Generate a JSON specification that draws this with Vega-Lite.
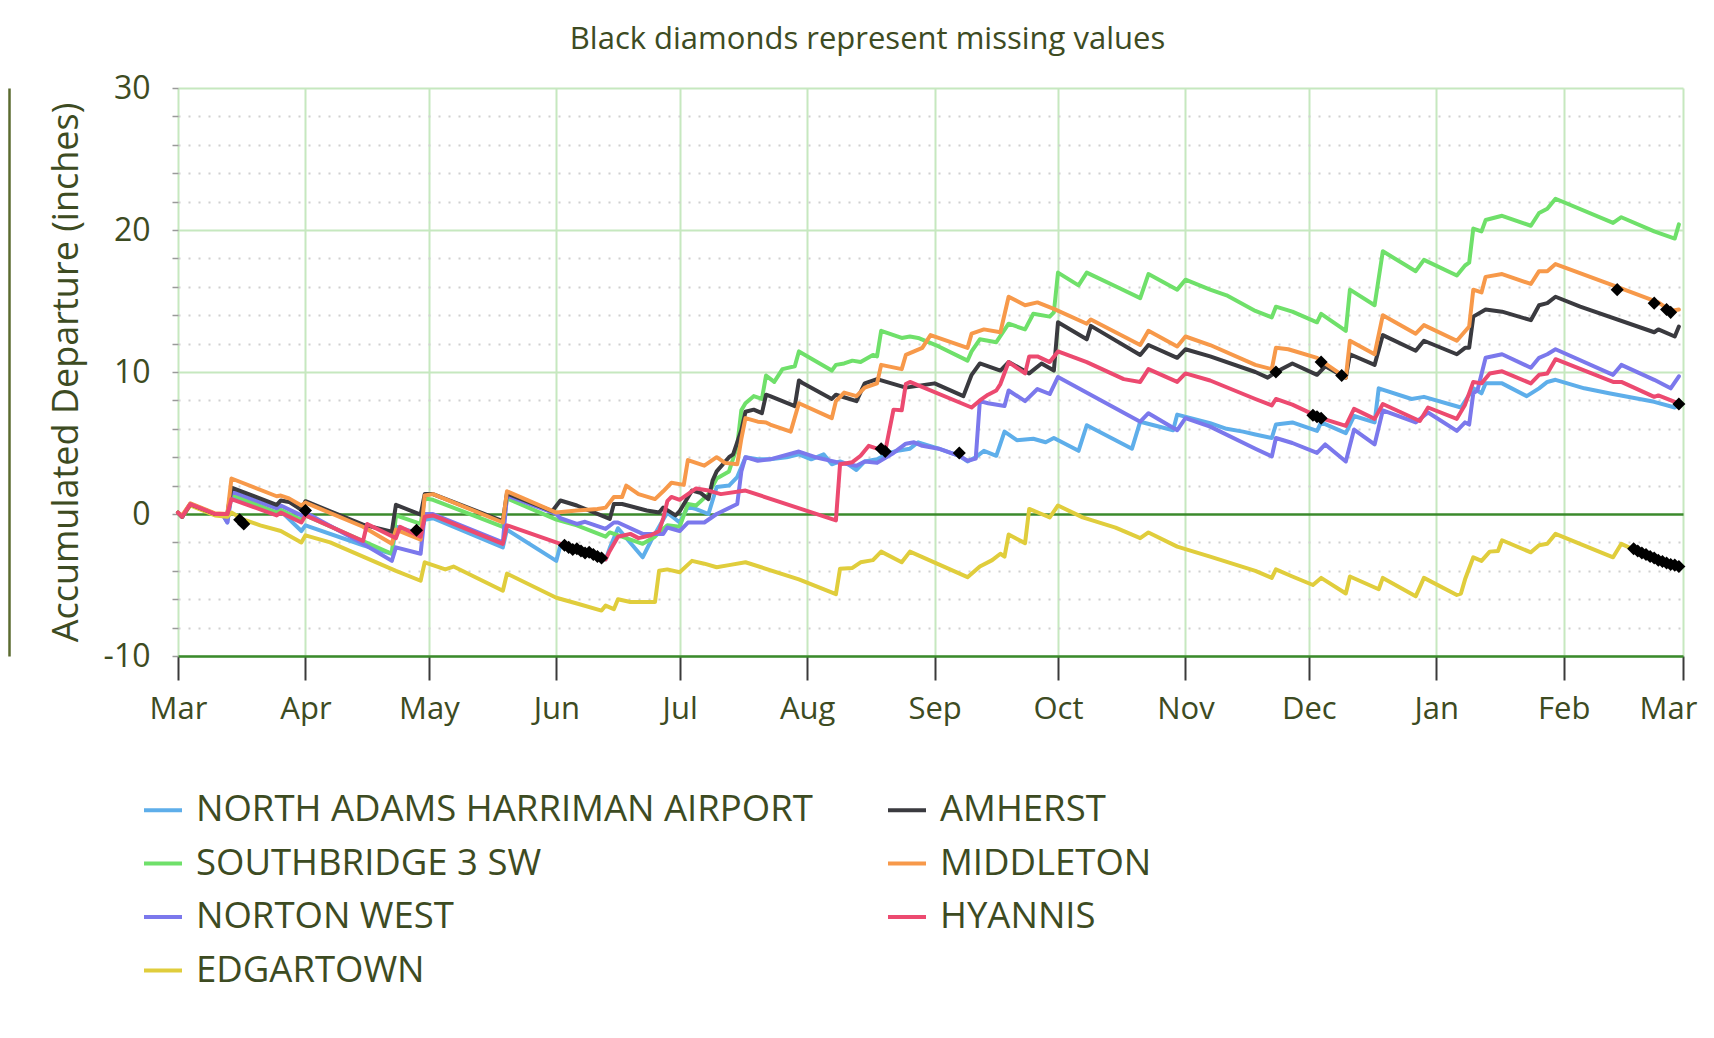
{
"$schema": "https://vega.github.io/schema/vega-lite/v6.json",
"width": 1505,
"height": 568,
"autosize": {"type": "none"},
"padding": {"left": 178, "top": 88, "right": 31, "bottom": 382},
"background": "white",
"config": {"font": "Open Sans", "view": {"stroke": null}},
"title": {"text": "Black diamonds represent missing values", "fontSize": 31, "font": "Open Sans", "fontWeight": "normal", "color": "#3d4b22", "anchor": "middle", "frame": "group", "dx": -63, "dy": 30, "offset": 22, "baseline": "alphabetic"},
"resolve": {"axis": {"y": "independent"}},
"datasets": {
"lines": [
{"station":"NORTH ADAMS HARRIMAN AIRPORT","date":"2023-03-01","value":0.1},
{"station":"NORTH ADAMS HARRIMAN AIRPORT","date":"2023-03-02","value":-0.2},
{"station":"NORTH ADAMS HARRIMAN AIRPORT","date":"2023-03-04","value":0.7},
{"station":"NORTH ADAMS HARRIMAN AIRPORT","date":"2023-03-10","value":0.0},
{"station":"NORTH ADAMS HARRIMAN AIRPORT","date":"2023-03-12","value":-0.1},
{"station":"NORTH ADAMS HARRIMAN AIRPORT","date":"2023-03-13","value":-0.6},
{"station":"NORTH ADAMS HARRIMAN AIRPORT","date":"2023-03-14","value":1.3},
{"station":"NORTH ADAMS HARRIMAN AIRPORT","date":"2023-03-25","value":0.0},
{"station":"NORTH ADAMS HARRIMAN AIRPORT","date":"2023-03-26","value":0.2},
{"station":"NORTH ADAMS HARRIMAN AIRPORT","date":"2023-03-31","value":-1.2},
{"station":"NORTH ADAMS HARRIMAN AIRPORT","date":"2023-04-01","value":-0.8},
{"station":"NORTH ADAMS HARRIMAN AIRPORT","date":"2023-04-15","value":-2.2},
{"station":"NORTH ADAMS HARRIMAN AIRPORT","date":"2023-04-22","value":-2.8},
{"station":"NORTH ADAMS HARRIMAN AIRPORT","date":"2023-04-23","value":-0.9},
{"station":"NORTH ADAMS HARRIMAN AIRPORT","date":"2023-04-29","value":-1.4},
{"station":"NORTH ADAMS HARRIMAN AIRPORT","date":"2023-04-30","value":-0.4},
{"station":"NORTH ADAMS HARRIMAN AIRPORT","date":"2023-05-02","value":-0.3},
{"station":"NORTH ADAMS HARRIMAN AIRPORT","date":"2023-05-19","value":-2.35},
{"station":"NORTH ADAMS HARRIMAN AIRPORT","date":"2023-05-20","value":-1.1},
{"station":"NORTH ADAMS HARRIMAN AIRPORT","date":"2023-06-01","value":-3.3},
{"station":"NORTH ADAMS HARRIMAN AIRPORT","date":"2023-06-02","value":-2.2},
{"station":"NORTH ADAMS HARRIMAN AIRPORT","date":"2023-06-13","value":-3.2},
{"station":"NORTH ADAMS HARRIMAN AIRPORT","date":"2023-06-14","value":-2.4},
{"station":"NORTH ADAMS HARRIMAN AIRPORT","date":"2023-06-16","value":-1.0},
{"station":"NORTH ADAMS HARRIMAN AIRPORT","date":"2023-06-22","value":-3.05},
{"station":"NORTH ADAMS HARRIMAN AIRPORT","date":"2023-06-24","value":-1.9},
{"station":"NORTH ADAMS HARRIMAN AIRPORT","date":"2023-06-26","value":-0.9},
{"station":"NORTH ADAMS HARRIMAN AIRPORT","date":"2023-06-28","value":0.1},
{"station":"NORTH ADAMS HARRIMAN AIRPORT","date":"2023-07-01","value":-0.6},
{"station":"NORTH ADAMS HARRIMAN AIRPORT","date":"2023-07-03","value":0.5},
{"station":"NORTH ADAMS HARRIMAN AIRPORT","date":"2023-07-05","value":0.35},
{"station":"NORTH ADAMS HARRIMAN AIRPORT","date":"2023-07-08","value":0.0},
{"station":"NORTH ADAMS HARRIMAN AIRPORT","date":"2023-07-10","value":1.9},
{"station":"NORTH ADAMS HARRIMAN AIRPORT","date":"2023-07-13","value":2.0},
{"station":"NORTH ADAMS HARRIMAN AIRPORT","date":"2023-07-15","value":2.6},
{"station":"NORTH ADAMS HARRIMAN AIRPORT","date":"2023-07-17","value":4.0},
{"station":"NORTH ADAMS HARRIMAN AIRPORT","date":"2023-07-20","value":3.85},
{"station":"NORTH ADAMS HARRIMAN AIRPORT","date":"2023-07-23","value":3.85},
{"station":"NORTH ADAMS HARRIMAN AIRPORT","date":"2023-07-27","value":4.0},
{"station":"NORTH ADAMS HARRIMAN AIRPORT","date":"2023-07-30","value":4.2},
{"station":"NORTH ADAMS HARRIMAN AIRPORT","date":"2023-08-02","value":3.85},
{"station":"NORTH ADAMS HARRIMAN AIRPORT","date":"2023-08-05","value":4.2},
{"station":"NORTH ADAMS HARRIMAN AIRPORT","date":"2023-08-07","value":3.5},
{"station":"NORTH ADAMS HARRIMAN AIRPORT","date":"2023-08-09","value":3.7},
{"station":"NORTH ADAMS HARRIMAN AIRPORT","date":"2023-08-11","value":3.5},
{"station":"NORTH ADAMS HARRIMAN AIRPORT","date":"2023-08-13","value":3.1},
{"station":"NORTH ADAMS HARRIMAN AIRPORT","date":"2023-08-15","value":3.7},
{"station":"NORTH ADAMS HARRIMAN AIRPORT","date":"2023-08-18","value":3.85},
{"station":"NORTH ADAMS HARRIMAN AIRPORT","date":"2023-08-21","value":4.3},
{"station":"NORTH ADAMS HARRIMAN AIRPORT","date":"2023-08-23","value":4.45},
{"station":"NORTH ADAMS HARRIMAN AIRPORT","date":"2023-08-26","value":4.6},
{"station":"NORTH ADAMS HARRIMAN AIRPORT","date":"2023-08-28","value":5.05},
{"station":"NORTH ADAMS HARRIMAN AIRPORT","date":"2023-09-02","value":4.6},
{"station":"NORTH ADAMS HARRIMAN AIRPORT","date":"2023-09-07","value":4.1},
{"station":"NORTH ADAMS HARRIMAN AIRPORT","date":"2023-09-09","value":3.7},
{"station":"NORTH ADAMS HARRIMAN AIRPORT","date":"2023-09-11","value":4.0},
{"station":"NORTH ADAMS HARRIMAN AIRPORT","date":"2023-09-13","value":4.45},
{"station":"NORTH ADAMS HARRIMAN AIRPORT","date":"2023-09-16","value":4.1},
{"station":"NORTH ADAMS HARRIMAN AIRPORT","date":"2023-09-18","value":5.8},
{"station":"NORTH ADAMS HARRIMAN AIRPORT","date":"2023-09-21","value":5.2},
{"station":"NORTH ADAMS HARRIMAN AIRPORT","date":"2023-09-25","value":5.3},
{"station":"NORTH ADAMS HARRIMAN AIRPORT","date":"2023-09-28","value":5.05},
{"station":"NORTH ADAMS HARRIMAN AIRPORT","date":"2023-09-30","value":5.35},
{"station":"NORTH ADAMS HARRIMAN AIRPORT","date":"2023-10-06","value":4.45},
{"station":"NORTH ADAMS HARRIMAN AIRPORT","date":"2023-10-08","value":6.25},
{"station":"NORTH ADAMS HARRIMAN AIRPORT","date":"2023-10-19","value":4.6},
{"station":"NORTH ADAMS HARRIMAN AIRPORT","date":"2023-10-21","value":6.5},
{"station":"NORTH ADAMS HARRIMAN AIRPORT","date":"2023-10-29","value":5.9},
{"station":"NORTH ADAMS HARRIMAN AIRPORT","date":"2023-10-30","value":7.0},
{"station":"NORTH ADAMS HARRIMAN AIRPORT","date":"2023-11-07","value":6.4},
{"station":"NORTH ADAMS HARRIMAN AIRPORT","date":"2023-11-11","value":6.0},
{"station":"NORTH ADAMS HARRIMAN AIRPORT","date":"2023-11-15","value":5.8},
{"station":"NORTH ADAMS HARRIMAN AIRPORT","date":"2023-11-18","value":5.6},
{"station":"NORTH ADAMS HARRIMAN AIRPORT","date":"2023-11-22","value":5.35},
{"station":"NORTH ADAMS HARRIMAN AIRPORT","date":"2023-11-23","value":6.3},
{"station":"NORTH ADAMS HARRIMAN AIRPORT","date":"2023-11-27","value":6.45},
{"station":"NORTH ADAMS HARRIMAN AIRPORT","date":"2023-12-03","value":5.85},
{"station":"NORTH ADAMS HARRIMAN AIRPORT","date":"2023-12-04","value":6.45},
{"station":"NORTH ADAMS HARRIMAN AIRPORT","date":"2023-12-10","value":5.7},
{"station":"NORTH ADAMS HARRIMAN AIRPORT","date":"2023-12-12","value":6.9},
{"station":"NORTH ADAMS HARRIMAN AIRPORT","date":"2023-12-17","value":6.45},
{"station":"NORTH ADAMS HARRIMAN AIRPORT","date":"2023-12-18","value":8.85},
{"station":"NORTH ADAMS HARRIMAN AIRPORT","date":"2023-12-26","value":8.1},
{"station":"NORTH ADAMS HARRIMAN AIRPORT","date":"2023-12-29","value":8.25},
{"station":"NORTH ADAMS HARRIMAN AIRPORT","date":"2024-01-07","value":7.5},
{"station":"NORTH ADAMS HARRIMAN AIRPORT","date":"2024-01-10","value":8.85},
{"station":"NORTH ADAMS HARRIMAN AIRPORT","date":"2024-01-12","value":8.5},
{"station":"NORTH ADAMS HARRIMAN AIRPORT","date":"2024-01-13","value":9.2},
{"station":"NORTH ADAMS HARRIMAN AIRPORT","date":"2024-01-17","value":9.2},
{"station":"NORTH ADAMS HARRIMAN AIRPORT","date":"2024-01-23","value":8.3},
{"station":"NORTH ADAMS HARRIMAN AIRPORT","date":"2024-01-26","value":8.85},
{"station":"NORTH ADAMS HARRIMAN AIRPORT","date":"2024-01-28","value":9.3},
{"station":"NORTH ADAMS HARRIMAN AIRPORT","date":"2024-01-30","value":9.45},
{"station":"NORTH ADAMS HARRIMAN AIRPORT","date":"2024-02-06","value":8.85},
{"station":"NORTH ADAMS HARRIMAN AIRPORT","date":"2024-02-12","value":8.5},
{"station":"NORTH ADAMS HARRIMAN AIRPORT","date":"2024-02-23","value":7.9},
{"station":"NORTH ADAMS HARRIMAN AIRPORT","date":"2024-02-28","value":7.5},
{"station":"NORTH ADAMS HARRIMAN AIRPORT","date":"2024-02-29","value":7.75},
{"station":"SOUTHBRIDGE 3 SW","date":"2023-03-01","value":0.1},
{"station":"SOUTHBRIDGE 3 SW","date":"2023-03-02","value":-0.2},
{"station":"SOUTHBRIDGE 3 SW","date":"2023-03-04","value":0.7},
{"station":"SOUTHBRIDGE 3 SW","date":"2023-03-10","value":0.0},
{"station":"SOUTHBRIDGE 3 SW","date":"2023-03-13","value":0.0},
{"station":"SOUTHBRIDGE 3 SW","date":"2023-03-14","value":1.4},
{"station":"SOUTHBRIDGE 3 SW","date":"2023-03-25","value":0.1},
{"station":"SOUTHBRIDGE 3 SW","date":"2023-03-26","value":0.3},
{"station":"SOUTHBRIDGE 3 SW","date":"2023-03-31","value":-0.4},
{"station":"SOUTHBRIDGE 3 SW","date":"2023-04-01","value":-0.1},
{"station":"SOUTHBRIDGE 3 SW","date":"2023-04-15","value":-1.9},
{"station":"SOUTHBRIDGE 3 SW","date":"2023-04-22","value":-2.8},
{"station":"SOUTHBRIDGE 3 SW","date":"2023-04-23","value":-0.1},
{"station":"SOUTHBRIDGE 3 SW","date":"2023-04-29","value":-0.7},
{"station":"SOUTHBRIDGE 3 SW","date":"2023-04-30","value":1.1},
{"station":"SOUTHBRIDGE 3 SW","date":"2023-05-02","value":1.0},
{"station":"SOUTHBRIDGE 3 SW","date":"2023-05-19","value":-0.9},
{"station":"SOUTHBRIDGE 3 SW","date":"2023-05-20","value":1.1},
{"station":"SOUTHBRIDGE 3 SW","date":"2023-06-01","value":-0.4},
{"station":"SOUTHBRIDGE 3 SW","date":"2023-06-06","value":-0.8},
{"station":"SOUTHBRIDGE 3 SW","date":"2023-06-13","value":-1.6},
{"station":"SOUTHBRIDGE 3 SW","date":"2023-06-14","value":-1.3},
{"station":"SOUTHBRIDGE 3 SW","date":"2023-06-22","value":-2.1},
{"station":"SOUTHBRIDGE 3 SW","date":"2023-06-25","value":-1.6},
{"station":"SOUTHBRIDGE 3 SW","date":"2023-06-26","value":-1.3},
{"station":"SOUTHBRIDGE 3 SW","date":"2023-06-28","value":-0.8},
{"station":"SOUTHBRIDGE 3 SW","date":"2023-07-01","value":-0.9},
{"station":"SOUTHBRIDGE 3 SW","date":"2023-07-03","value":0.7},
{"station":"SOUTHBRIDGE 3 SW","date":"2023-07-05","value":0.6},
{"station":"SOUTHBRIDGE 3 SW","date":"2023-07-08","value":1.4},
{"station":"SOUTHBRIDGE 3 SW","date":"2023-07-10","value":2.5},
{"station":"SOUTHBRIDGE 3 SW","date":"2023-07-13","value":3.0},
{"station":"SOUTHBRIDGE 3 SW","date":"2023-07-14","value":3.9},
{"station":"SOUTHBRIDGE 3 SW","date":"2023-07-15","value":4.8},
{"station":"SOUTHBRIDGE 3 SW","date":"2023-07-16","value":7.3},
{"station":"SOUTHBRIDGE 3 SW","date":"2023-07-17","value":7.8},
{"station":"SOUTHBRIDGE 3 SW","date":"2023-07-19","value":8.3},
{"station":"SOUTHBRIDGE 3 SW","date":"2023-07-21","value":8.1},
{"station":"SOUTHBRIDGE 3 SW","date":"2023-07-22","value":9.75},
{"station":"SOUTHBRIDGE 3 SW","date":"2023-07-24","value":9.3},
{"station":"SOUTHBRIDGE 3 SW","date":"2023-07-26","value":10.2},
{"station":"SOUTHBRIDGE 3 SW","date":"2023-07-29","value":10.4},
{"station":"SOUTHBRIDGE 3 SW","date":"2023-07-30","value":11.45},
{"station":"SOUTHBRIDGE 3 SW","date":"2023-08-07","value":10.1},
{"station":"SOUTHBRIDGE 3 SW","date":"2023-08-08","value":10.5},
{"station":"SOUTHBRIDGE 3 SW","date":"2023-08-10","value":10.6},
{"station":"SOUTHBRIDGE 3 SW","date":"2023-08-12","value":10.8},
{"station":"SOUTHBRIDGE 3 SW","date":"2023-08-14","value":10.7},
{"station":"SOUTHBRIDGE 3 SW","date":"2023-08-17","value":11.2},
{"station":"SOUTHBRIDGE 3 SW","date":"2023-08-18","value":11.1},
{"station":"SOUTHBRIDGE 3 SW","date":"2023-08-19","value":12.9},
{"station":"SOUTHBRIDGE 3 SW","date":"2023-08-24","value":12.4},
{"station":"SOUTHBRIDGE 3 SW","date":"2023-08-26","value":12.5},
{"station":"SOUTHBRIDGE 3 SW","date":"2023-08-28","value":12.4},
{"station":"SOUTHBRIDGE 3 SW","date":"2023-09-02","value":11.8},
{"station":"SOUTHBRIDGE 3 SW","date":"2023-09-09","value":10.8},
{"station":"SOUTHBRIDGE 3 SW","date":"2023-09-10","value":11.45},
{"station":"SOUTHBRIDGE 3 SW","date":"2023-09-12","value":12.3},
{"station":"SOUTHBRIDGE 3 SW","date":"2023-09-16","value":12.1},
{"station":"SOUTHBRIDGE 3 SW","date":"2023-09-19","value":13.4},
{"station":"SOUTHBRIDGE 3 SW","date":"2023-09-23","value":13.0},
{"station":"SOUTHBRIDGE 3 SW","date":"2023-09-25","value":14.1},
{"station":"SOUTHBRIDGE 3 SW","date":"2023-09-29","value":13.9},
{"station":"SOUTHBRIDGE 3 SW","date":"2023-09-30","value":14.2},
{"station":"SOUTHBRIDGE 3 SW","date":"2023-10-01","value":17.0},
{"station":"SOUTHBRIDGE 3 SW","date":"2023-10-06","value":16.1},
{"station":"SOUTHBRIDGE 3 SW","date":"2023-10-08","value":17.0},
{"station":"SOUTHBRIDGE 3 SW","date":"2023-10-16","value":15.9},
{"station":"SOUTHBRIDGE 3 SW","date":"2023-10-21","value":15.2},
{"station":"SOUTHBRIDGE 3 SW","date":"2023-10-23","value":16.9},
{"station":"SOUTHBRIDGE 3 SW","date":"2023-10-30","value":15.8},
{"station":"SOUTHBRIDGE 3 SW","date":"2023-11-01","value":16.5},
{"station":"SOUTHBRIDGE 3 SW","date":"2023-11-07","value":15.8},
{"station":"SOUTHBRIDGE 3 SW","date":"2023-11-11","value":15.4},
{"station":"SOUTHBRIDGE 3 SW","date":"2023-11-18","value":14.3},
{"station":"SOUTHBRIDGE 3 SW","date":"2023-11-22","value":13.85},
{"station":"SOUTHBRIDGE 3 SW","date":"2023-11-23","value":14.6},
{"station":"SOUTHBRIDGE 3 SW","date":"2023-11-27","value":14.25},
{"station":"SOUTHBRIDGE 3 SW","date":"2023-12-03","value":13.5},
{"station":"SOUTHBRIDGE 3 SW","date":"2023-12-04","value":14.1},
{"station":"SOUTHBRIDGE 3 SW","date":"2023-12-10","value":12.9},
{"station":"SOUTHBRIDGE 3 SW","date":"2023-12-11","value":15.8},
{"station":"SOUTHBRIDGE 3 SW","date":"2023-12-17","value":14.7},
{"station":"SOUTHBRIDGE 3 SW","date":"2023-12-19","value":18.5},
{"station":"SOUTHBRIDGE 3 SW","date":"2023-12-27","value":17.1},
{"station":"SOUTHBRIDGE 3 SW","date":"2023-12-29","value":17.9},
{"station":"SOUTHBRIDGE 3 SW","date":"2024-01-06","value":16.8},
{"station":"SOUTHBRIDGE 3 SW","date":"2024-01-08","value":17.5},
{"station":"SOUTHBRIDGE 3 SW","date":"2024-01-09","value":17.7},
{"station":"SOUTHBRIDGE 3 SW","date":"2024-01-10","value":20.1},
{"station":"SOUTHBRIDGE 3 SW","date":"2024-01-12","value":19.9},
{"station":"SOUTHBRIDGE 3 SW","date":"2024-01-13","value":20.7},
{"station":"SOUTHBRIDGE 3 SW","date":"2024-01-17","value":21.0},
{"station":"SOUTHBRIDGE 3 SW","date":"2024-01-24","value":20.3},
{"station":"SOUTHBRIDGE 3 SW","date":"2024-01-26","value":21.2},
{"station":"SOUTHBRIDGE 3 SW","date":"2024-01-28","value":21.5},
{"station":"SOUTHBRIDGE 3 SW","date":"2024-01-30","value":22.2},
{"station":"SOUTHBRIDGE 3 SW","date":"2024-02-13","value":20.5},
{"station":"SOUTHBRIDGE 3 SW","date":"2024-02-15","value":20.9},
{"station":"SOUTHBRIDGE 3 SW","date":"2024-02-23","value":19.9},
{"station":"SOUTHBRIDGE 3 SW","date":"2024-02-28","value":19.4},
{"station":"SOUTHBRIDGE 3 SW","date":"2024-02-29","value":20.4},
{"station":"NORTON WEST","date":"2023-03-01","value":0.1},
{"station":"NORTON WEST","date":"2023-03-02","value":-0.2},
{"station":"NORTON WEST","date":"2023-03-04","value":0.7},
{"station":"NORTON WEST","date":"2023-03-10","value":0.0},
{"station":"NORTON WEST","date":"2023-03-12","value":-0.1},
{"station":"NORTON WEST","date":"2023-03-13","value":-0.6},
{"station":"NORTON WEST","date":"2023-03-14","value":1.6},
{"station":"NORTON WEST","date":"2023-03-25","value":0.4},
{"station":"NORTON WEST","date":"2023-03-26","value":0.6},
{"station":"NORTON WEST","date":"2023-03-31","value":-0.1},
{"station":"NORTON WEST","date":"2023-04-01","value":0.1},
{"station":"NORTON WEST","date":"2023-04-15","value":-2.1},
{"station":"NORTON WEST","date":"2023-04-22","value":-3.3},
{"station":"NORTON WEST","date":"2023-04-23","value":-2.35},
{"station":"NORTON WEST","date":"2023-04-29","value":-2.8},
{"station":"NORTON WEST","date":"2023-04-30","value":0.0},
{"station":"NORTON WEST","date":"2023-05-02","value":0.0},
{"station":"NORTON WEST","date":"2023-05-19","value":-2.0},
{"station":"NORTON WEST","date":"2023-05-20","value":1.3},
{"station":"NORTON WEST","date":"2023-06-01","value":0.0},
{"station":"NORTON WEST","date":"2023-06-02","value":-0.3},
{"station":"NORTON WEST","date":"2023-06-06","value":-0.7},
{"station":"NORTON WEST","date":"2023-06-08","value":-0.55},
{"station":"NORTON WEST","date":"2023-06-13","value":-1.05},
{"station":"NORTON WEST","date":"2023-06-15","value":-0.6},
{"station":"NORTON WEST","date":"2023-06-16","value":-0.6},
{"station":"NORTON WEST","date":"2023-06-22","value":-1.4},
{"station":"NORTON WEST","date":"2023-06-27","value":-1.4},
{"station":"NORTON WEST","date":"2023-06-28","value":-0.95},
{"station":"NORTON WEST","date":"2023-07-01","value":-1.2},
{"station":"NORTON WEST","date":"2023-07-03","value":-0.6},
{"station":"NORTON WEST","date":"2023-07-07","value":-0.6},
{"station":"NORTON WEST","date":"2023-07-10","value":0.0},
{"station":"NORTON WEST","date":"2023-07-15","value":0.7},
{"station":"NORTON WEST","date":"2023-07-16","value":3.0},
{"station":"NORTON WEST","date":"2023-07-17","value":4.0},
{"station":"NORTON WEST","date":"2023-07-20","value":3.75},
{"station":"NORTON WEST","date":"2023-07-23","value":3.85},
{"station":"NORTON WEST","date":"2023-07-30","value":4.4},
{"station":"NORTON WEST","date":"2023-08-01","value":4.2},
{"station":"NORTON WEST","date":"2023-08-03","value":4.0},
{"station":"NORTON WEST","date":"2023-08-09","value":3.6},
{"station":"NORTON WEST","date":"2023-08-13","value":3.4},
{"station":"NORTON WEST","date":"2023-08-15","value":3.7},
{"station":"NORTON WEST","date":"2023-08-18","value":3.6},
{"station":"NORTON WEST","date":"2023-08-22","value":4.3},
{"station":"NORTON WEST","date":"2023-08-25","value":4.95},
{"station":"NORTON WEST","date":"2023-08-27","value":5.05},
{"station":"NORTON WEST","date":"2023-08-29","value":4.8},
{"station":"NORTON WEST","date":"2023-09-02","value":4.6},
{"station":"NORTON WEST","date":"2023-09-07","value":4.1},
{"station":"NORTON WEST","date":"2023-09-09","value":3.75},
{"station":"NORTON WEST","date":"2023-09-11","value":3.9},
{"station":"NORTON WEST","date":"2023-09-12","value":7.95},
{"station":"NORTON WEST","date":"2023-09-14","value":7.8},
{"station":"NORTON WEST","date":"2023-09-18","value":7.6},
{"station":"NORTON WEST","date":"2023-09-19","value":8.7},
{"station":"NORTON WEST","date":"2023-09-23","value":7.95},
{"station":"NORTON WEST","date":"2023-09-26","value":8.8},
{"station":"NORTON WEST","date":"2023-09-29","value":8.45},
{"station":"NORTON WEST","date":"2023-10-01","value":9.65},
{"station":"NORTON WEST","date":"2023-10-21","value":6.5},
{"station":"NORTON WEST","date":"2023-10-23","value":7.1},
{"station":"NORTON WEST","date":"2023-10-30","value":5.9},
{"station":"NORTON WEST","date":"2023-11-01","value":6.75},
{"station":"NORTON WEST","date":"2023-11-07","value":6.15},
{"station":"NORTON WEST","date":"2023-11-18","value":4.6},
{"station":"NORTON WEST","date":"2023-11-22","value":4.05},
{"station":"NORTON WEST","date":"2023-11-23","value":5.35},
{"station":"NORTON WEST","date":"2023-11-27","value":5.0},
{"station":"NORTON WEST","date":"2023-12-03","value":4.3},
{"station":"NORTON WEST","date":"2023-12-05","value":4.9},
{"station":"NORTON WEST","date":"2023-12-10","value":3.7},
{"station":"NORTON WEST","date":"2023-12-12","value":5.95},
{"station":"NORTON WEST","date":"2023-12-17","value":4.9},
{"station":"NORTON WEST","date":"2023-12-19","value":7.3},
{"station":"NORTON WEST","date":"2023-12-27","value":6.45},
{"station":"NORTON WEST","date":"2023-12-30","value":7.15},
{"station":"NORTON WEST","date":"2024-01-06","value":5.85},
{"station":"NORTON WEST","date":"2024-01-08","value":6.45},
{"station":"NORTON WEST","date":"2024-01-09","value":6.3},
{"station":"NORTON WEST","date":"2024-01-10","value":8.5},
{"station":"NORTON WEST","date":"2024-01-11","value":8.7},
{"station":"NORTON WEST","date":"2024-01-13","value":11.0},
{"station":"NORTON WEST","date":"2024-01-17","value":11.25},
{"station":"NORTON WEST","date":"2024-01-24","value":10.3},
{"station":"NORTON WEST","date":"2024-01-26","value":11.0},
{"station":"NORTON WEST","date":"2024-01-28","value":11.25},
{"station":"NORTON WEST","date":"2024-01-30","value":11.6},
{"station":"NORTON WEST","date":"2024-02-13","value":9.8},
{"station":"NORTON WEST","date":"2024-02-15","value":10.5},
{"station":"NORTON WEST","date":"2024-02-23","value":9.45},
{"station":"NORTON WEST","date":"2024-02-27","value":8.85},
{"station":"NORTON WEST","date":"2024-02-29","value":9.7},
{"station":"EDGARTOWN","date":"2023-03-01","value":0.1},
{"station":"EDGARTOWN","date":"2023-03-02","value":-0.2},
{"station":"EDGARTOWN","date":"2023-03-04","value":0.6},
{"station":"EDGARTOWN","date":"2023-03-10","value":-0.1},
{"station":"EDGARTOWN","date":"2023-03-13","value":-0.2},
{"station":"EDGARTOWN","date":"2023-03-14","value":0.1},
{"station":"EDGARTOWN","date":"2023-03-17","value":-0.4},
{"station":"EDGARTOWN","date":"2023-03-21","value":-0.8},
{"station":"EDGARTOWN","date":"2023-03-26","value":-1.2},
{"station":"EDGARTOWN","date":"2023-03-31","value":-2.0},
{"station":"EDGARTOWN","date":"2023-04-01","value":-1.5},
{"station":"EDGARTOWN","date":"2023-04-07","value":-2.0},
{"station":"EDGARTOWN","date":"2023-04-15","value":-3.0},
{"station":"EDGARTOWN","date":"2023-04-23","value":-4.0},
{"station":"EDGARTOWN","date":"2023-04-29","value":-4.7},
{"station":"EDGARTOWN","date":"2023-04-30","value":-3.4},
{"station":"EDGARTOWN","date":"2023-05-05","value":-3.9},
{"station":"EDGARTOWN","date":"2023-05-07","value":-3.7},
{"station":"EDGARTOWN","date":"2023-05-19","value":-5.4},
{"station":"EDGARTOWN","date":"2023-05-20","value":-4.2},
{"station":"EDGARTOWN","date":"2023-06-01","value":-5.9},
{"station":"EDGARTOWN","date":"2023-06-06","value":-6.3},
{"station":"EDGARTOWN","date":"2023-06-12","value":-6.8},
{"station":"EDGARTOWN","date":"2023-06-13","value":-6.45},
{"station":"EDGARTOWN","date":"2023-06-15","value":-6.7},
{"station":"EDGARTOWN","date":"2023-06-16","value":-6.0},
{"station":"EDGARTOWN","date":"2023-06-19","value":-6.2},
{"station":"EDGARTOWN","date":"2023-06-25","value":-6.2},
{"station":"EDGARTOWN","date":"2023-06-26","value":-4.0},
{"station":"EDGARTOWN","date":"2023-06-28","value":-3.9},
{"station":"EDGARTOWN","date":"2023-07-01","value":-4.1},
{"station":"EDGARTOWN","date":"2023-07-04","value":-3.3},
{"station":"EDGARTOWN","date":"2023-07-07","value":-3.5},
{"station":"EDGARTOWN","date":"2023-07-10","value":-3.75},
{"station":"EDGARTOWN","date":"2023-07-13","value":-3.6},
{"station":"EDGARTOWN","date":"2023-07-17","value":-3.4},
{"station":"EDGARTOWN","date":"2023-07-30","value":-4.6},
{"station":"EDGARTOWN","date":"2023-08-08","value":-5.65},
{"station":"EDGARTOWN","date":"2023-08-09","value":-3.85},
{"station":"EDGARTOWN","date":"2023-08-12","value":-3.8},
{"station":"EDGARTOWN","date":"2023-08-14","value":-3.4},
{"station":"EDGARTOWN","date":"2023-08-17","value":-3.25},
{"station":"EDGARTOWN","date":"2023-08-19","value":-2.65},
{"station":"EDGARTOWN","date":"2023-08-24","value":-3.4},
{"station":"EDGARTOWN","date":"2023-08-26","value":-2.65},
{"station":"EDGARTOWN","date":"2023-09-09","value":-4.45},
{"station":"EDGARTOWN","date":"2023-09-12","value":-3.7},
{"station":"EDGARTOWN","date":"2023-09-15","value":-3.25},
{"station":"EDGARTOWN","date":"2023-09-17","value":-2.8},
{"station":"EDGARTOWN","date":"2023-09-18","value":-3.0},
{"station":"EDGARTOWN","date":"2023-09-19","value":-1.45},
{"station":"EDGARTOWN","date":"2023-09-23","value":-2.05},
{"station":"EDGARTOWN","date":"2023-09-24","value":0.36},
{"station":"EDGARTOWN","date":"2023-09-27","value":0.0},
{"station":"EDGARTOWN","date":"2023-09-29","value":-0.24},
{"station":"EDGARTOWN","date":"2023-10-01","value":0.6},
{"station":"EDGARTOWN","date":"2023-10-07","value":-0.24},
{"station":"EDGARTOWN","date":"2023-10-15","value":-0.96},
{"station":"EDGARTOWN","date":"2023-10-21","value":-1.7},
{"station":"EDGARTOWN","date":"2023-10-23","value":-1.3},
{"station":"EDGARTOWN","date":"2023-10-30","value":-2.3},
{"station":"EDGARTOWN","date":"2023-11-07","value":-3.0},
{"station":"EDGARTOWN","date":"2023-11-18","value":-4.0},
{"station":"EDGARTOWN","date":"2023-11-22","value":-4.5},
{"station":"EDGARTOWN","date":"2023-11-23","value":-3.9},
{"station":"EDGARTOWN","date":"2023-11-27","value":-4.4},
{"station":"EDGARTOWN","date":"2023-12-02","value":-5.0},
{"station":"EDGARTOWN","date":"2023-12-04","value":-4.5},
{"station":"EDGARTOWN","date":"2023-12-10","value":-5.6},
{"station":"EDGARTOWN","date":"2023-12-11","value":-4.4},
{"station":"EDGARTOWN","date":"2023-12-18","value":-5.3},
{"station":"EDGARTOWN","date":"2023-12-19","value":-4.5},
{"station":"EDGARTOWN","date":"2023-12-27","value":-5.8},
{"station":"EDGARTOWN","date":"2023-12-29","value":-4.5},
{"station":"EDGARTOWN","date":"2024-01-06","value":-5.7},
{"station":"EDGARTOWN","date":"2024-01-07","value":-5.6},
{"station":"EDGARTOWN","date":"2024-01-08","value":-4.6},
{"station":"EDGARTOWN","date":"2024-01-10","value":-3.05},
{"station":"EDGARTOWN","date":"2024-01-12","value":-3.3},
{"station":"EDGARTOWN","date":"2024-01-14","value":-2.65},
{"station":"EDGARTOWN","date":"2024-01-16","value":-2.6},
{"station":"EDGARTOWN","date":"2024-01-17","value":-1.85},
{"station":"EDGARTOWN","date":"2024-01-24","value":-2.7},
{"station":"EDGARTOWN","date":"2024-01-26","value":-2.2},
{"station":"EDGARTOWN","date":"2024-01-28","value":-2.1},
{"station":"EDGARTOWN","date":"2024-01-30","value":-1.4},
{"station":"EDGARTOWN","date":"2024-02-13","value":-3.05},
{"station":"EDGARTOWN","date":"2024-02-15","value":-2.1},
{"station":"EDGARTOWN","date":"2024-02-18","value":-2.5},
{"station":"AMHERST","date":"2023-03-01","value":0.1},
{"station":"AMHERST","date":"2023-03-02","value":-0.2},
{"station":"AMHERST","date":"2023-03-04","value":0.7},
{"station":"AMHERST","date":"2023-03-10","value":0.0},
{"station":"AMHERST","date":"2023-03-13","value":0.0},
{"station":"AMHERST","date":"2023-03-14","value":1.85},
{"station":"AMHERST","date":"2023-03-25","value":0.65},
{"station":"AMHERST","date":"2023-03-26","value":0.95},
{"station":"AMHERST","date":"2023-03-28","value":0.85},
{"station":"AMHERST","date":"2023-03-31","value":0.3},
{"station":"AMHERST","date":"2023-04-01","value":0.9},
{"station":"AMHERST","date":"2023-04-15","value":-0.75},
{"station":"AMHERST","date":"2023-04-22","value":-1.25},
{"station":"AMHERST","date":"2023-04-23","value":0.65},
{"station":"AMHERST","date":"2023-04-29","value":-0.05},
{"station":"AMHERST","date":"2023-04-30","value":1.4},
{"station":"AMHERST","date":"2023-05-02","value":1.4},
{"station":"AMHERST","date":"2023-05-19","value":-0.5},
{"station":"AMHERST","date":"2023-05-20","value":1.45},
{"station":"AMHERST","date":"2023-05-31","value":0.2},
{"station":"AMHERST","date":"2023-06-02","value":0.95},
{"station":"AMHERST","date":"2023-06-06","value":0.6},
{"station":"AMHERST","date":"2023-06-14","value":-0.35},
{"station":"AMHERST","date":"2023-06-15","value":0.7},
{"station":"AMHERST","date":"2023-06-17","value":0.7},
{"station":"AMHERST","date":"2023-06-23","value":0.25},
{"station":"AMHERST","date":"2023-06-26","value":0.1},
{"station":"AMHERST","date":"2023-06-27","value":0.45},
{"station":"AMHERST","date":"2023-06-30","value":-0.1},
{"station":"AMHERST","date":"2023-07-01","value":0.2},
{"station":"AMHERST","date":"2023-07-04","value":1.65},
{"station":"AMHERST","date":"2023-07-06","value":1.5},
{"station":"AMHERST","date":"2023-07-08","value":1.05},
{"station":"AMHERST","date":"2023-07-09","value":2.35},
{"station":"AMHERST","date":"2023-07-10","value":3.0},
{"station":"AMHERST","date":"2023-07-13","value":4.0},
{"station":"AMHERST","date":"2023-07-14","value":4.2},
{"station":"AMHERST","date":"2023-07-16","value":5.9},
{"station":"AMHERST","date":"2023-07-17","value":7.2},
{"station":"AMHERST","date":"2023-07-19","value":7.35},
{"station":"AMHERST","date":"2023-07-21","value":7.1},
{"station":"AMHERST","date":"2023-07-22","value":8.4},
{"station":"AMHERST","date":"2023-07-23","value":8.3},
{"station":"AMHERST","date":"2023-07-29","value":7.6},
{"station":"AMHERST","date":"2023-07-30","value":9.4},
{"station":"AMHERST","date":"2023-07-31","value":9.2},
{"station":"AMHERST","date":"2023-08-07","value":8.1},
{"station":"AMHERST","date":"2023-08-08","value":8.4},
{"station":"AMHERST","date":"2023-08-13","value":7.95},
{"station":"AMHERST","date":"2023-08-15","value":9.2},
{"station":"AMHERST","date":"2023-08-18","value":9.5},
{"station":"AMHERST","date":"2023-08-25","value":8.9},
{"station":"AMHERST","date":"2023-09-01","value":9.2},
{"station":"AMHERST","date":"2023-09-08","value":8.3},
{"station":"AMHERST","date":"2023-09-10","value":9.8},
{"station":"AMHERST","date":"2023-09-12","value":10.6},
{"station":"AMHERST","date":"2023-09-17","value":10.1},
{"station":"AMHERST","date":"2023-09-19","value":10.7},
{"station":"AMHERST","date":"2023-09-24","value":9.9},
{"station":"AMHERST","date":"2023-09-27","value":10.6},
{"station":"AMHERST","date":"2023-09-30","value":10.1},
{"station":"AMHERST","date":"2023-10-01","value":13.5},
{"station":"AMHERST","date":"2023-10-08","value":12.3},
{"station":"AMHERST","date":"2023-10-09","value":13.25},
{"station":"AMHERST","date":"2023-10-21","value":11.2},
{"station":"AMHERST","date":"2023-10-23","value":11.9},
{"station":"AMHERST","date":"2023-10-30","value":11.0},
{"station":"AMHERST","date":"2023-11-01","value":11.6},
{"station":"AMHERST","date":"2023-11-07","value":11.1},
{"station":"AMHERST","date":"2023-11-18","value":10.0},
{"station":"AMHERST","date":"2023-11-21","value":9.6},
{"station":"AMHERST","date":"2023-11-23","value":10.0},
{"station":"AMHERST","date":"2023-11-27","value":10.6},
{"station":"AMHERST","date":"2023-12-03","value":9.8},
{"station":"AMHERST","date":"2023-12-05","value":10.4},
{"station":"AMHERST","date":"2023-12-10","value":9.6},
{"station":"AMHERST","date":"2023-12-11","value":11.25},
{"station":"AMHERST","date":"2023-12-17","value":10.5},
{"station":"AMHERST","date":"2023-12-19","value":12.6},
{"station":"AMHERST","date":"2023-12-27","value":11.5},
{"station":"AMHERST","date":"2023-12-29","value":12.2},
{"station":"AMHERST","date":"2024-01-06","value":11.25},
{"station":"AMHERST","date":"2024-01-08","value":11.7},
{"station":"AMHERST","date":"2024-01-09","value":11.7},
{"station":"AMHERST","date":"2024-01-10","value":13.9},
{"station":"AMHERST","date":"2024-01-13","value":14.4},
{"station":"AMHERST","date":"2024-01-17","value":14.25},
{"station":"AMHERST","date":"2024-01-24","value":13.65},
{"station":"AMHERST","date":"2024-01-26","value":14.7},
{"station":"AMHERST","date":"2024-01-28","value":14.85},
{"station":"AMHERST","date":"2024-01-30","value":15.3},
{"station":"AMHERST","date":"2024-02-05","value":14.6},
{"station":"AMHERST","date":"2024-02-23","value":12.8},
{"station":"AMHERST","date":"2024-02-24","value":13.0},
{"station":"AMHERST","date":"2024-02-28","value":12.5},
{"station":"AMHERST","date":"2024-02-29","value":13.2},
{"station":"MIDDLETON","date":"2023-03-01","value":0.1},
{"station":"MIDDLETON","date":"2023-03-02","value":-0.1},
{"station":"MIDDLETON","date":"2023-03-04","value":0.75},
{"station":"MIDDLETON","date":"2023-03-10","value":0.05},
{"station":"MIDDLETON","date":"2023-03-13","value":0.0},
{"station":"MIDDLETON","date":"2023-03-14","value":2.5},
{"station":"MIDDLETON","date":"2023-03-25","value":1.25},
{"station":"MIDDLETON","date":"2023-03-26","value":1.3},
{"station":"MIDDLETON","date":"2023-03-28","value":1.1},
{"station":"MIDDLETON","date":"2023-03-31","value":0.6},
{"station":"MIDDLETON","date":"2023-04-01","value":0.8},
{"station":"MIDDLETON","date":"2023-04-15","value":-0.9},
{"station":"MIDDLETON","date":"2023-04-22","value":-2.1},
{"station":"MIDDLETON","date":"2023-04-23","value":-1.1},
{"station":"MIDDLETON","date":"2023-04-29","value":-1.8},
{"station":"MIDDLETON","date":"2023-04-30","value":1.3},
{"station":"MIDDLETON","date":"2023-05-02","value":1.4},
{"station":"MIDDLETON","date":"2023-05-19","value":-0.6},
{"station":"MIDDLETON","date":"2023-05-20","value":1.6},
{"station":"MIDDLETON","date":"2023-06-01","value":0.1},
{"station":"MIDDLETON","date":"2023-06-06","value":0.25},
{"station":"MIDDLETON","date":"2023-06-11","value":0.35},
{"station":"MIDDLETON","date":"2023-06-13","value":0.45},
{"station":"MIDDLETON","date":"2023-06-15","value":1.2},
{"station":"MIDDLETON","date":"2023-06-17","value":1.2},
{"station":"MIDDLETON","date":"2023-06-18","value":2.0},
{"station":"MIDDLETON","date":"2023-06-21","value":1.4},
{"station":"MIDDLETON","date":"2023-06-25","value":1.05},
{"station":"MIDDLETON","date":"2023-06-27","value":1.6},
{"station":"MIDDLETON","date":"2023-06-29","value":2.2},
{"station":"MIDDLETON","date":"2023-07-02","value":2.05},
{"station":"MIDDLETON","date":"2023-07-03","value":3.8},
{"station":"MIDDLETON","date":"2023-07-07","value":3.4},
{"station":"MIDDLETON","date":"2023-07-10","value":4.0},
{"station":"MIDDLETON","date":"2023-07-12","value":3.6},
{"station":"MIDDLETON","date":"2023-07-15","value":3.5},
{"station":"MIDDLETON","date":"2023-07-16","value":5.3},
{"station":"MIDDLETON","date":"2023-07-17","value":6.75},
{"station":"MIDDLETON","date":"2023-07-20","value":6.5},
{"station":"MIDDLETON","date":"2023-07-22","value":6.45},
{"station":"MIDDLETON","date":"2023-07-23","value":6.3},
{"station":"MIDDLETON","date":"2023-07-28","value":5.8},
{"station":"MIDDLETON","date":"2023-07-30","value":7.8},
{"station":"MIDDLETON","date":"2023-08-07","value":6.75},
{"station":"MIDDLETON","date":"2023-08-08","value":7.95},
{"station":"MIDDLETON","date":"2023-08-10","value":8.55},
{"station":"MIDDLETON","date":"2023-08-13","value":8.3},
{"station":"MIDDLETON","date":"2023-08-15","value":8.9},
{"station":"MIDDLETON","date":"2023-08-18","value":9.2},
{"station":"MIDDLETON","date":"2023-08-19","value":10.5},
{"station":"MIDDLETON","date":"2023-08-24","value":10.2},
{"station":"MIDDLETON","date":"2023-08-25","value":11.2},
{"station":"MIDDLETON","date":"2023-08-29","value":11.7},
{"station":"MIDDLETON","date":"2023-08-31","value":12.6},
{"station":"MIDDLETON","date":"2023-09-09","value":11.7},
{"station":"MIDDLETON","date":"2023-09-10","value":12.7},
{"station":"MIDDLETON","date":"2023-09-13","value":13.0},
{"station":"MIDDLETON","date":"2023-09-17","value":12.8},
{"station":"MIDDLETON","date":"2023-09-19","value":15.3},
{"station":"MIDDLETON","date":"2023-09-23","value":14.7},
{"station":"MIDDLETON","date":"2023-09-26","value":14.9},
{"station":"MIDDLETON","date":"2023-09-30","value":14.45},
{"station":"MIDDLETON","date":"2023-10-08","value":13.4},
{"station":"MIDDLETON","date":"2023-10-09","value":13.7},
{"station":"MIDDLETON","date":"2023-10-21","value":11.9},
{"station":"MIDDLETON","date":"2023-10-23","value":12.9},
{"station":"MIDDLETON","date":"2023-10-30","value":11.8},
{"station":"MIDDLETON","date":"2023-11-01","value":12.5},
{"station":"MIDDLETON","date":"2023-11-07","value":11.9},
{"station":"MIDDLETON","date":"2023-11-18","value":10.5},
{"station":"MIDDLETON","date":"2023-11-22","value":10.2},
{"station":"MIDDLETON","date":"2023-11-23","value":11.7},
{"station":"MIDDLETON","date":"2023-11-26","value":11.6},
{"station":"MIDDLETON","date":"2023-12-03","value":11.0},
{"station":"MIDDLETON","date":"2023-12-10","value":9.6},
{"station":"MIDDLETON","date":"2023-12-11","value":12.2},
{"station":"MIDDLETON","date":"2023-12-17","value":11.25},
{"station":"MIDDLETON","date":"2023-12-19","value":14.0},
{"station":"MIDDLETON","date":"2023-12-27","value":12.7},
{"station":"MIDDLETON","date":"2023-12-29","value":13.3},
{"station":"MIDDLETON","date":"2024-01-06","value":12.2},
{"station":"MIDDLETON","date":"2024-01-09","value":13.2},
{"station":"MIDDLETON","date":"2024-01-10","value":15.8},
{"station":"MIDDLETON","date":"2024-01-12","value":15.6},
{"station":"MIDDLETON","date":"2024-01-13","value":16.7},
{"station":"MIDDLETON","date":"2024-01-17","value":16.9},
{"station":"MIDDLETON","date":"2024-01-24","value":16.2},
{"station":"MIDDLETON","date":"2024-01-26","value":17.1},
{"station":"MIDDLETON","date":"2024-01-28","value":17.1},
{"station":"MIDDLETON","date":"2024-01-30","value":17.6},
{"station":"MIDDLETON","date":"2024-02-13","value":16.1},
{"station":"MIDDLETON","date":"2024-02-24","value":14.9},
{"station":"MIDDLETON","date":"2024-02-27","value":14.3},
{"station":"MIDDLETON","date":"2024-02-29","value":14.4},
{"station":"HYANNIS","date":"2023-03-01","value":0.1},
{"station":"HYANNIS","date":"2023-03-02","value":-0.2},
{"station":"HYANNIS","date":"2023-03-04","value":0.7},
{"station":"HYANNIS","date":"2023-03-10","value":0.0},
{"station":"HYANNIS","date":"2023-03-13","value":0.0},
{"station":"HYANNIS","date":"2023-03-14","value":1.05},
{"station":"HYANNIS","date":"2023-03-25","value":-0.1},
{"station":"HYANNIS","date":"2023-03-26","value":0.1},
{"station":"HYANNIS","date":"2023-03-31","value":-0.6},
{"station":"HYANNIS","date":"2023-04-01","value":-0.1},
{"station":"HYANNIS","date":"2023-04-15","value":-1.9},
{"station":"HYANNIS","date":"2023-04-16","value":-0.7},
{"station":"HYANNIS","date":"2023-04-23","value":-1.7},
{"station":"HYANNIS","date":"2023-04-24","value":-0.9},
{"station":"HYANNIS","date":"2023-04-29","value":-1.6},
{"station":"HYANNIS","date":"2023-04-30","value":-0.2},
{"station":"HYANNIS","date":"2023-05-02","value":-0.1},
{"station":"HYANNIS","date":"2023-05-19","value":-2.1},
{"station":"HYANNIS","date":"2023-05-20","value":-0.8},
{"station":"HYANNIS","date":"2023-06-02","value":-2.1},
{"station":"HYANNIS","date":"2023-06-13","value":-3.2},
{"station":"HYANNIS","date":"2023-06-14","value":-2.6},
{"station":"HYANNIS","date":"2023-06-16","value":-1.6},
{"station":"HYANNIS","date":"2023-06-19","value":-1.4},
{"station":"HYANNIS","date":"2023-06-21","value":-1.7},
{"station":"HYANNIS","date":"2023-06-24","value":-1.5},
{"station":"HYANNIS","date":"2023-06-26","value":-1.2},
{"station":"HYANNIS","date":"2023-06-27","value":-0.3},
{"station":"HYANNIS","date":"2023-06-28","value":0.9},
{"station":"HYANNIS","date":"2023-06-29","value":1.2},
{"station":"HYANNIS","date":"2023-07-01","value":1.0},
{"station":"HYANNIS","date":"2023-07-05","value":1.8},
{"station":"HYANNIS","date":"2023-07-08","value":1.65},
{"station":"HYANNIS","date":"2023-07-11","value":1.4},
{"station":"HYANNIS","date":"2023-07-17","value":1.65},
{"station":"HYANNIS","date":"2023-07-29","value":0.5},
{"station":"HYANNIS","date":"2023-08-08","value":-0.45},
{"station":"HYANNIS","date":"2023-08-09","value":3.5},
{"station":"HYANNIS","date":"2023-08-12","value":3.65},
{"station":"HYANNIS","date":"2023-08-14","value":4.1},
{"station":"HYANNIS","date":"2023-08-16","value":4.8},
{"station":"HYANNIS","date":"2023-08-18","value":4.6},
{"station":"HYANNIS","date":"2023-08-20","value":4.45},
{"station":"HYANNIS","date":"2023-08-22","value":7.35},
{"station":"HYANNIS","date":"2023-08-24","value":7.3},
{"station":"HYANNIS","date":"2023-08-25","value":9.15},
{"station":"HYANNIS","date":"2023-08-26","value":9.3},
{"station":"HYANNIS","date":"2023-09-10","value":7.5},
{"station":"HYANNIS","date":"2023-09-12","value":8.0},
{"station":"HYANNIS","date":"2023-09-14","value":8.4},
{"station":"HYANNIS","date":"2023-09-16","value":8.7},
{"station":"HYANNIS","date":"2023-09-17","value":9.15},
{"station":"HYANNIS","date":"2023-09-19","value":10.7},
{"station":"HYANNIS","date":"2023-09-23","value":9.9},
{"station":"HYANNIS","date":"2023-09-24","value":11.1},
{"station":"HYANNIS","date":"2023-09-26","value":11.1},
{"station":"HYANNIS","date":"2023-09-29","value":10.7},
{"station":"HYANNIS","date":"2023-10-01","value":11.45},
{"station":"HYANNIS","date":"2023-10-08","value":10.7},
{"station":"HYANNIS","date":"2023-10-17","value":9.5},
{"station":"HYANNIS","date":"2023-10-21","value":9.3},
{"station":"HYANNIS","date":"2023-10-23","value":10.2},
{"station":"HYANNIS","date":"2023-10-30","value":9.3},
{"station":"HYANNIS","date":"2023-11-01","value":9.9},
{"station":"HYANNIS","date":"2023-11-07","value":9.4},
{"station":"HYANNIS","date":"2023-11-18","value":8.1},
{"station":"HYANNIS","date":"2023-11-22","value":7.65},
{"station":"HYANNIS","date":"2023-11-23","value":8.1},
{"station":"HYANNIS","date":"2023-11-27","value":7.7},
{"station":"HYANNIS","date":"2023-11-30","value":7.3},
{"station":"HYANNIS","date":"2023-12-04","value":6.75},
{"station":"HYANNIS","date":"2023-12-10","value":6.2},
{"station":"HYANNIS","date":"2023-12-12","value":7.4},
{"station":"HYANNIS","date":"2023-12-17","value":6.7},
{"station":"HYANNIS","date":"2023-12-19","value":7.75},
{"station":"HYANNIS","date":"2023-12-28","value":6.55},
{"station":"HYANNIS","date":"2023-12-30","value":7.5},
{"station":"HYANNIS","date":"2024-01-06","value":6.7},
{"station":"HYANNIS","date":"2024-01-08","value":7.7},
{"station":"HYANNIS","date":"2024-01-10","value":9.3},
{"station":"HYANNIS","date":"2024-01-12","value":9.2},
{"station":"HYANNIS","date":"2024-01-14","value":9.9},
{"station":"HYANNIS","date":"2024-01-17","value":10.05},
{"station":"HYANNIS","date":"2024-01-24","value":9.2},
{"station":"HYANNIS","date":"2024-01-26","value":9.8},
{"station":"HYANNIS","date":"2024-01-28","value":9.9},
{"station":"HYANNIS","date":"2024-01-30","value":10.9},
{"station":"HYANNIS","date":"2024-02-13","value":9.3},
{"station":"HYANNIS","date":"2024-02-15","value":9.3},
{"station":"HYANNIS","date":"2024-02-23","value":8.25},
{"station":"HYANNIS","date":"2024-02-24","value":8.35},
{"station":"HYANNIS","date":"2024-02-28","value":7.9},
{"station":"HYANNIS","date":"2024-02-29","value":7.75}
],
"missing": [
{"date":"2023-03-16","value":-0.4},
{"date":"2023-03-17","value":-0.7},
{"date":"2023-04-01","value":0.25},
{"date":"2023-04-28","value":-1.15},
{"date":"2023-06-03","value":-2.2},
{"date":"2023-06-04","value":-2.35},
{"date":"2023-06-05","value":-2.5},
{"date":"2023-06-06","value":-2.45},
{"date":"2023-06-07","value":-2.6},
{"date":"2023-06-08","value":-2.75},
{"date":"2023-06-09","value":-2.7},
{"date":"2023-06-10","value":-2.85},
{"date":"2023-06-11","value":-3.0},
{"date":"2023-06-12","value":-3.1},
{"date":"2023-08-19","value":4.6},
{"date":"2023-08-20","value":4.4},
{"date":"2023-09-07","value":4.3},
{"date":"2023-11-23","value":10.0},
{"date":"2023-12-02","value":6.95},
{"date":"2023-12-03","value":6.85},
{"date":"2023-12-04","value":6.75},
{"date":"2023-12-04","value":10.7},
{"date":"2023-12-09","value":9.75},
{"date":"2024-02-14","value":15.8},
{"date":"2024-02-23","value":14.85},
{"date":"2024-02-26","value":14.4},
{"date":"2024-02-27","value":14.2},
{"date":"2024-02-29","value":7.75},
{"date":"2024-02-18","value":-2.45},
{"date":"2024-02-19","value":-2.6},
{"date":"2024-02-20","value":-2.75},
{"date":"2024-02-21","value":-2.85},
{"date":"2024-02-22","value":-3.0},
{"date":"2024-02-23","value":-3.1},
{"date":"2024-02-24","value":-3.25},
{"date":"2024-02-25","value":-3.35},
{"date":"2024-02-26","value":-3.45},
{"date":"2024-02-27","value":-3.55},
{"date":"2024-02-28","value":-3.6},
{"date":"2024-02-29","value":-3.7}
]
},
"layer": [
{
"data": {"name": "lines"},
"mark": {"type": "line", "strokeWidth": 4, "strokeJoin": "round", "strokeCap": "round"},
"encoding": {
"x": {"field": "date", "type": "temporal",
"scale": {"type": "utc", "nice": false, "domain": [{"year": 2023, "month": 3, "date": 1, "utc": true}, {"year": 2024, "month": 3, "date": 1, "utc": true}]},
"axis": {"title": null, "format": "%b", "tickCount": {"interval": "month", "step": 1},
"labelFontSize": 31, "labelFont": "Open Sans", "labelColor": "#3d4b22", "labelPadding": 14, "labelOverlap": false, "labelFlush": false,
"labelOffset": {"condition": {"test": "datum.value > utc(2024, 1, 15)", "value": -15}, "value": 0},
"tickSize": 24, "tickColor": "#3a3a3a", "tickWidth": 2,
"domainColor": "#3b8a2c", "domainWidth": 2.5,
"grid": true, "gridColor": "#c6e8bf", "gridWidth": 2}},
"y": {"field": "value", "type": "quantitative",
"scale": {"domain": [-10, 30], "nice": false, "zero": false},
"axis": {"values": [-10,-8,-6,-4,-2,0,2,4,6,8,10,12,14,16,18,20,22,24,26,28,30],
"labelExpr": "datum.value % 10 === 0 ? '' + datum.value : ''",
"labelOverlap": false, "labelBound": false,
"labelFontSize": {"condition": {"test": "datum.value % 10 !== 0", "value": 1}, "value": 32},
"labelFont": "Open Sans", "labelColor": "#3d4b22", "labelPadding": 22,
"domain": false, "ticks": true, "tickSize": 6, "tickColor": "#9a9a9a", "tickWidth": 1.5,
"grid": true,
"gridColor": {"condition": [{"test": "datum.value === 0", "value": "#3b8a2c"}, {"test": "datum.value % 10 === 0", "value": "#c6e8bf"}], "value": "#d0d0d0"},
"gridDash": {"condition": {"test": "datum.value % 10 !== 0", "value": [2, 8]}, "value": []},
"gridWidth": {"condition": {"test": "datum.value === 0", "value": 2.5}, "value": 2},
"title": "Accumulated Departure (inches)", "titleFontSize": 36, "titleFont": "Open Sans", "titleFontWeight": "normal", "titleColor": "#3d4b22",
"titleAngle": 270, "titleX": -101, "titleY": 284, "titleAlign": "center", "titleBaseline": "alphabetic"}},
"color": {"field": "station", "type": "nominal",
"scale": {"domain": ["NORTH ADAMS HARRIMAN AIRPORT", "SOUTHBRIDGE 3 SW", "NORTON WEST", "EDGARTOWN", "AMHERST", "MIDDLETON", "HYANNIS"],
"range": ["#5eaeea", "#6fe06a", "#7b78ec", "#e0cd3c", "#3a3a3f", "#f7994a", "#ec4a70"]},
"legend": {"orient": "none", "legendX": -36, "legendY": 701, "direction": "vertical", "columns": 2, "title": null, "padding": 0,
"symbolType": "stroke", "symbolSize": 1444, "symbolStrokeWidth": 4,
"labelFontSize": 36.5, "labelFont": "Open Sans", "labelColor": "#3d4b22", "labelOffset": 12, "labelLimit": 1000,
"rowPadding": 13.5, "columnPadding": 67}}
}
},
{
"data": {"name": "missing"},
"mark": {"type": "point", "shape": "diamond", "filled": true, "color": "#000000", "size": 170, "opacity": 1},
"encoding": {
"x": {"field": "date", "type": "temporal"},
"y": {"field": "value", "type": "quantitative",
"axis": {"orient": "left", "offset": 169, "labels": false, "ticks": false, "grid": false, "title": null, "domain": true, "domainColor": "#5b6b30", "domainWidth": 2.5}}
}
}
]
}
